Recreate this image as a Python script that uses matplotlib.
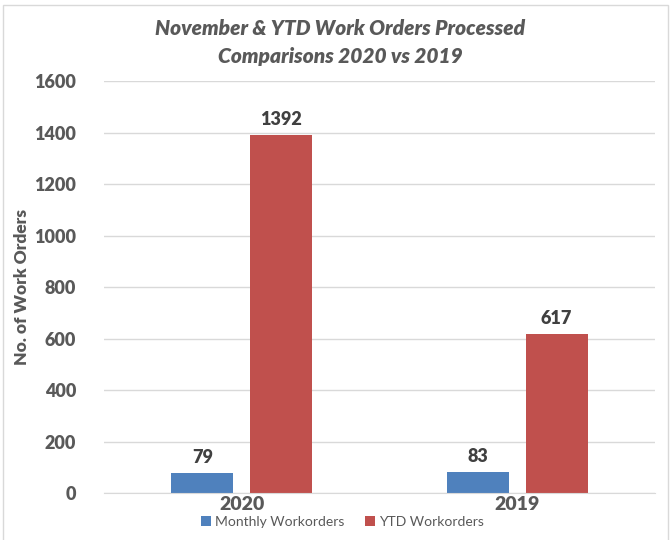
import matplotlib
matplotlib.use("Agg")
import matplotlib.pyplot as plt
import numpy as np
from matplotlib.patches import Rectangle

categories = ["2020", "2019"]
monthly = [79, 83]
ytd = [1392, 617]
series_names = ["Monthly Workorders", "YTD Workorders"]
yticks = [0, 200, 400, 600, 800, 1000, 1200, 1400, 1600]

plt.rcParams['font.family'] = ['Lato', 'DejaVu Sans']
txt = '#595959'

fig = plt.figure(figsize=(6.71, 5.40), dpi=100)
ax = fig.add_axes([0.155, 0.087, 0.821, 0.763])

x = np.arange(len(categories))
w = 0.225
off = 0.143
b1 = ax.bar(x - off, monthly, w, color='#4f81bd', label=series_names[0])
b2 = ax.bar(x + off, ytd, w, color='#c0504d', label=series_names[1])

for bars, vals in ((b1, monthly), (b2, ytd)):
    for r, v in zip(bars, vals):
        ax.annotate(str(v), (r.get_x() + r.get_width() / 2, v), xytext=(0, 5),
                    textcoords='offset points', ha='center', va='bottom',
                    fontsize=13, fontweight='heavy', color='#404040')

ax.set_xlim(-0.5, 1.5)
ax.set_ylim(0, 1600)
ax.set_yticks(yticks)
ax.set_yticklabels([str(t) for t in yticks], fontsize=13, fontweight='heavy', color=txt)
ax.set_xticks(x)
ax.set_xticklabels(categories, fontsize=14, fontweight='heavy', color=txt)
ax.tick_params(axis='both', length=0)
ax.tick_params(axis='y', pad=20)
ax.tick_params(axis='x', pad=2)
ax.grid(axis='y', color='#d9d9d9', linewidth=1)
ax.set_axisbelow(True)
for s in ['top', 'right', 'left']:
    ax.spines[s].set_visible(False)
ax.spines['bottom'].set_color('#d9d9d9')

ax.set_ylabel("No. of Work Orders", fontsize=12.5, fontweight='heavy', color=txt)
ax.yaxis.set_label_coords(-0.135, 0.5)

fig.text(0.507, 0.948, "November & YTD Work Orders Processed", ha='center', va='center',
         fontsize=15, fontweight='heavy', style='italic', color=txt)
fig.text(0.507, 0.896, "Comparisons 2020 vs 2019", ha='center', va='center',
         fontsize=15, fontweight='heavy', style='italic', color=txt)

leg = fig.legend(loc='center', bbox_to_anchor=(0.51, 0.033), ncol=2, frameon=False,
                 fontsize=10, handlelength=0.7, handleheight=0.7, handletextpad=0.3,
                 columnspacing=1.5)
for t in leg.get_texts():
    t.set_color(txt)

fig.patches.append(Rectangle((0.005, -0.01), 0.99, 1.0, transform=fig.transFigure,
                             fill=False, edgecolor='#d9d9d9', linewidth=1))

fig.savefig("out.png", dpi=100)
